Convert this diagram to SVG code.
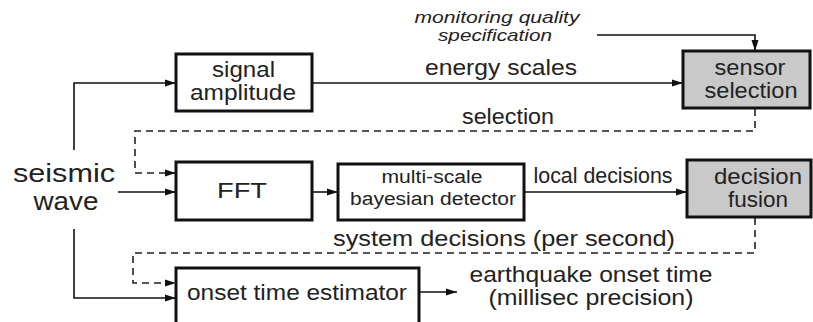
<svg xmlns="http://www.w3.org/2000/svg" width="813" height="322" viewBox="0 0 813 322">
<defs>
<marker id="ah" markerWidth="12" markerHeight="8" refX="11" refY="4" orient="auto" markerUnits="userSpaceOnUse">
<path d="M0,0.5 L11,4 L0,7.5 Z" fill="#111"/>
</marker>
</defs>
<style>
.box{fill:#fff;stroke:#111;stroke-width:3}
.gbox{fill:#c9c9c9;stroke:#111;stroke-width:3}
.ln{fill:none;stroke:#111;stroke-width:1.6}
.ds{fill:none;stroke:#222;stroke-width:1.6;stroke-dasharray:7 5}
text{font-family:"Liberation Sans",Arial,sans-serif;fill:#222;text-anchor:middle;font-size:22px}
.it{font-style:italic;font-size:17px}
.sm{font-size:18px}
.big{font-size:26px}
</style>
<rect width="813" height="322" fill="#fff"/>
<g id="connectors">
<polyline class="ln" points="74,150 74,83 176,83" marker-end="url(#ah)"/>
<line class="ln" x1="312" y1="83" x2="683" y2="83" marker-end="url(#ah)"/>
<polyline class="ln" points="597,35 755,35 755,51" marker-end="url(#ah)"/>
<polyline class="ds" points="755,109 755,131 135,131 135,173 176,173" marker-end="url(#ah)"/>
<line class="ln" x1="118" y1="192" x2="176" y2="192" marker-end="url(#ah)"/>
<line class="ln" x1="312" y1="192" x2="338" y2="192" marker-end="url(#ah)"/>
<line class="ln" x1="524" y1="192" x2="687" y2="192" marker-end="url(#ah)"/>
<polyline class="ds" points="755,218 755,253 133,253 133,283 176,283" marker-end="url(#ah)"/>
<polyline class="ln" points="74,229 74,298 176,298" marker-end="url(#ah)"/>
<line class="ln" x1="420" y1="292" x2="457" y2="292" marker-end="url(#ah)"/>
<text x="501" y="75" textLength="152" lengthAdjust="spacingAndGlyphs">energy scales</text>
<text x="508" y="124" textLength="92" lengthAdjust="spacingAndGlyphs">selection</text>
<text x="603" y="183" textLength="139" lengthAdjust="spacingAndGlyphs">local decisions</text>
<text x="504" y="246" textLength="342" lengthAdjust="spacingAndGlyphs">system decisions (per second)</text>
</g>
<g id="monitoring">
<text class="it" x="497" y="23" textLength="165" lengthAdjust="spacingAndGlyphs">monitoring quality</text>
<text class="it" x="495" y="41" textLength="114" lengthAdjust="spacingAndGlyphs">specification</text>
</g>
<g id="seismic">
<text class="big" x="64" y="182" textLength="102" lengthAdjust="spacingAndGlyphs">seismic</text>
<text class="big" x="66" y="210" textLength="65" lengthAdjust="spacingAndGlyphs">wave</text>
</g>
<g id="signal">
<rect class="box" x="176" y="54" width="136" height="57"/>
<text x="243.5" y="77" textLength="63" lengthAdjust="spacingAndGlyphs">signal</text>
<text x="243" y="100" textLength="106" lengthAdjust="spacingAndGlyphs">amplitude</text>
</g>
<g id="sensor">
<rect class="gbox" x="683" y="51" width="127" height="57"/>
<text x="750" y="75" textLength="71" lengthAdjust="spacingAndGlyphs">sensor</text>
<text x="751" y="98" textLength="93" lengthAdjust="spacingAndGlyphs">selection</text>
</g>
<g id="fft">
<rect class="box" x="176" y="162" width="136" height="58"/>
<text x="242" y="198" textLength="50" lengthAdjust="spacingAndGlyphs">FFT</text>
</g>
<g id="detector">
<rect class="box" x="338" y="164" width="186" height="56"/>
<text class="sm" x="432" y="183" textLength="101" lengthAdjust="spacingAndGlyphs">multi-scale</text>
<text class="sm" x="433" y="205" textLength="166" lengthAdjust="spacingAndGlyphs">bayesian detector</text>
</g>
<g id="fusion">
<rect class="gbox" x="687" y="160" width="124" height="57"/>
<text x="758" y="184" textLength="88" lengthAdjust="spacingAndGlyphs">decision</text>
<text x="758" y="207" textLength="60" lengthAdjust="spacingAndGlyphs">fusion</text>
</g>
<g id="onset">
<rect class="box" x="176" y="268" width="243" height="70"/>
<text x="297" y="300" textLength="220" lengthAdjust="spacingAndGlyphs">onset time estimator</text>
</g>
<g id="output">
<text x="591" y="282" textLength="243" lengthAdjust="spacingAndGlyphs">earthquake onset time</text>
<text x="591" y="305" textLength="205" lengthAdjust="spacingAndGlyphs">(millisec precision)</text>
</g>
</svg>
